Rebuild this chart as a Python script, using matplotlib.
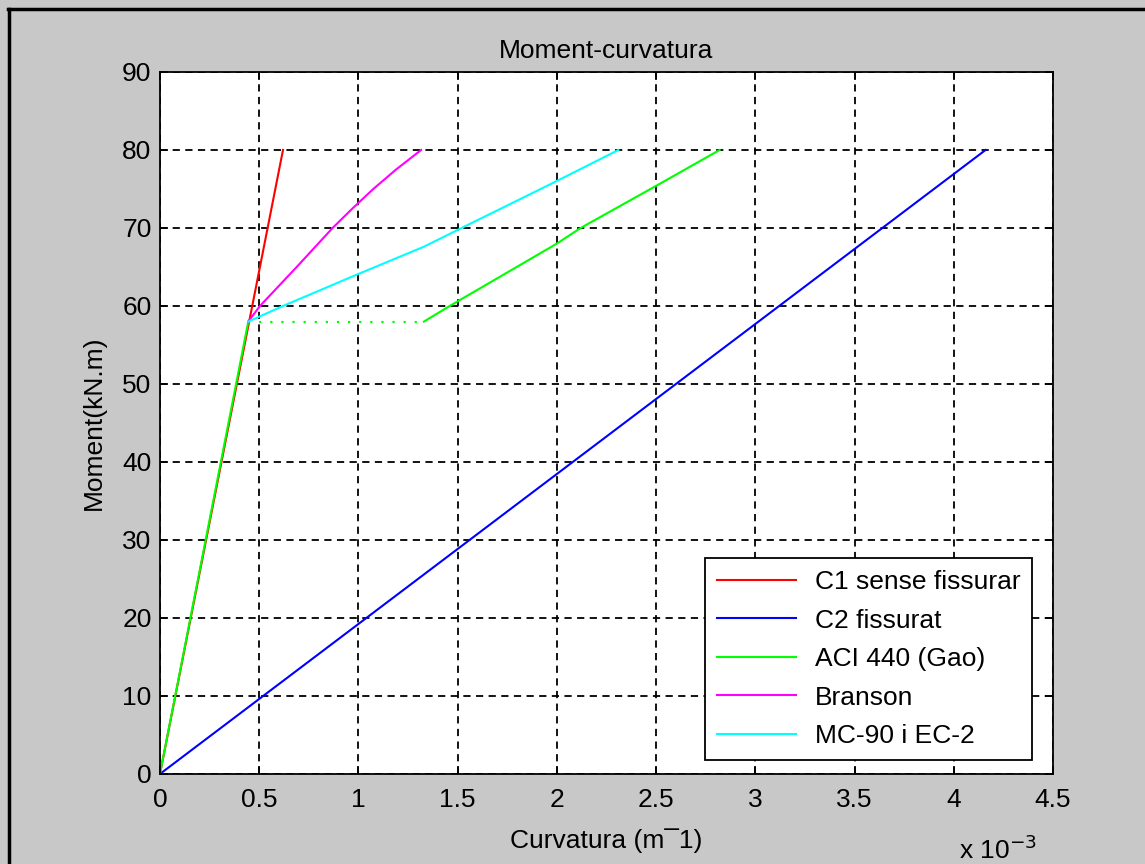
import numpy as np
import matplotlib
matplotlib.use('Agg')
from matplotlib import pyplot as plt
from matplotlib.lines import Line2D
from matplotlib.ticker import FuncFormatter, MultipleLocator

plt.rcParams['font.family'] = ['Liberation Sans', 'DejaVu Sans']

# curvatura en unitats de 1e-3 m^-1, moment en kN.m
curv_c1 = [0.0, 0.62]
mom_c1 = [0.0, 80.0]

curv_c2 = [0.0, 4.16]
mom_c2 = [0.0, 80.0]

curv_aci_el = [0.0, 0.445]
mom_aci_el = [0.0, 58.0]
curv_aci_jump = [0.445, 1.33]
mom_aci_jump = [58.0, 58.0]
curv_aci = [1.33, 1.46, 2.0, 2.12, 2.5, 2.82]
mom_aci = [58.0, 60.0, 68.0, 70.0, 75.4, 80.0]

curv_branson = [0.445, 0.504, 0.689, 0.870, 0.97, 1.075, 1.19, 1.316]
mom_branson = [58.0, 60.0, 65.0, 70.0, 72.5, 75.0, 77.5, 80.0]

curv_mc90 = [0.445, 0.62, 0.99, 1.33, 1.52, 1.99, 2.31]
mom_mc90 = [58.0, 60.0, 64.0, 67.6, 70.0, 75.9, 80.0]

escala = 1e-3

fig = plt.figure(figsize=(11.45, 8.64), dpi=100, facecolor='#c8c8c8')
ax = fig.add_axes([0.1397, 0.1042, 0.780, 0.8125])
ax.set_facecolor('white')

lw = 1.5
ax.plot(np.array(curv_c1) * escala, mom_c1, color='red', lw=lw, label='C1 sense fissurar')
ax.plot(np.array(curv_c2) * escala, mom_c2, color='blue', lw=lw, label='C2 fissurat')
ax.plot(np.array(curv_aci_el) * escala, mom_aci_el, color='#00ff00', lw=lw, label='ACI 440 (Gao)')
ax.plot(np.array(curv_aci_jump) * escala, mom_aci_jump, color='#00ff00', lw=1.6, ls=(0, (1, 4)))
ax.plot(np.array(curv_aci) * escala, mom_aci, color='#00ff00', lw=lw)
ax.plot(np.array(curv_branson) * escala, mom_branson, color='magenta', lw=lw, label='Branson')
ax.plot(np.array(curv_mc90) * escala, mom_mc90, color='cyan', lw=lw, label='MC-90 i EC-2')

ax.set_xlim(0, 4.5e-3)
ax.set_ylim(0, 90)
ax.xaxis.set_major_locator(MultipleLocator(0.5e-3))
ax.yaxis.set_major_locator(MultipleLocator(10))
ax.xaxis.set_major_formatter(FuncFormatter(lambda v, p: '%g' % round(v / escala, 3)))

ax.grid(True, color='black', ls=(0, (4, 3)), lw=1.3)
ax.tick_params(direction='in', length=6, width=1.2, top=True, right=True, labelsize=19, pad=6)
ax.tick_params(axis='x', pad=10)
for s in ax.spines.values():
    s.set_linewidth(1.3)

ax.set_title('Moment-curvatura', fontsize=19, pad=10)
ax.set_xlabel('Curvatura (m\u00af1)', fontsize=19, labelpad=12)
ax.set_ylabel('Moment(kN.m)', fontsize=19, labelpad=12)
ax.text(0.982, -0.088, 'x 10$^{-3}$', transform=ax.transAxes, ha='right', va='top', fontsize=19)

leg = ax.legend(loc='lower right', bbox_to_anchor=(0.9765, 0.02), fontsize=19, frameon=True,
                fancybox=False, edgecolor='black', framealpha=1, borderaxespad=0,
                handlelength=3.0, labelspacing=0.55, borderpad=0.45, handletextpad=0.7)
leg.get_frame().set_linewidth(1.3)

# marc negre de la captura
fig.add_artist(Line2D([8 / 1145, 1], [1 - 9 / 864, 1 - 9 / 864], color='black', lw=2.5, transform=fig.transFigure))
fig.add_artist(Line2D([9 / 1145, 9 / 1145], [0, 1 - 9 / 864], color='black', lw=2.5, transform=fig.transFigure))

plt.savefig('out.png', dpi=100, facecolor=fig.get_facecolor())
